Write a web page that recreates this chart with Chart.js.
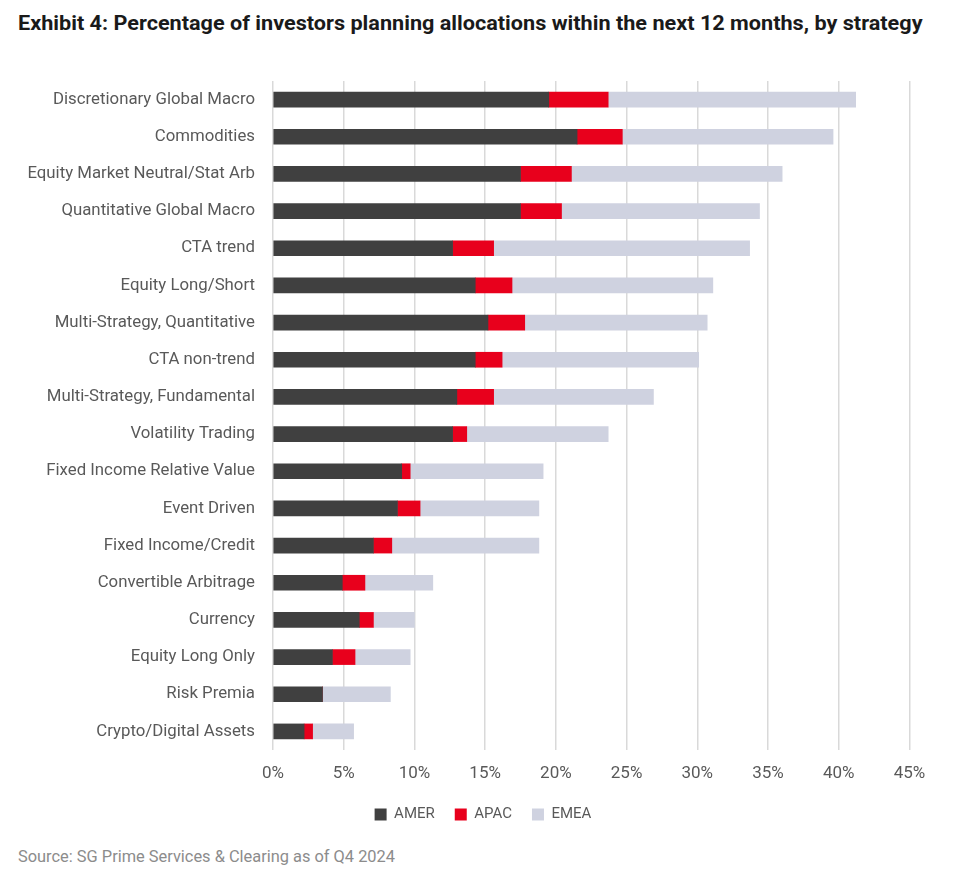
<!DOCTYPE html>
<html>
<head>
<meta charset="utf-8">
<script src="https://cdn.jsdelivr.net/npm/chart.js@4"></script>
<style>
  html, body { margin: 0; padding: 0; background: #fff; }
  body { width: 978px; height: 875px; position: relative; overflow: hidden; }
  #title { position: absolute; left: 18px; top: 11px; font-family: Roboto, sans-serif; font-weight: 700;
           font-size: 20px; color: #1a1a1a; white-space: nowrap; transform-origin: left top; }
  #source { position: absolute; left: 18px; top: 847px; font-family: Roboto, sans-serif; font-size: 16.4px;
            color: #8c8c8c; white-space: nowrap; }
  #wrap { position: absolute; left: 0; top: 0; width: 978px; height: 832px; }
</style>
</head>
<body>
<div id="title">Exhibit 4: Percentage of investors planning allocations within the next 12 months, by strategy</div>
<div id="wrap"><canvas id="chart"></canvas></div>
<div id="source">Source: SG Prime Services &amp; Clearing as of Q4 2024</div>
<script>
const strategies = [
    'Discretionary Global Macro', 'Commodities', 'Equity Market Neutral/Stat Arb', 'Quantitative Global Macro',
    'CTA trend', 'Equity Long/Short', 'Multi-Strategy, Quantitative', 'CTA non-trend',
    'Multi-Strategy, Fundamental', 'Volatility Trading', 'Fixed Income Relative Value', 'Event Driven',
    'Fixed Income/Credit', 'Convertible Arbitrage', 'Currency', 'Equity Long Only', 'Risk Premia', 'Crypto/Digital Assets'
];
const amer = [19.5, 21.5, 17.5, 17.5, 12.7, 14.3, 15.2, 14.3, 13.0, 12.7, 9.1, 8.8, 7.1, 4.9, 6.1, 4.2, 3.5, 2.2];
const apac = [4.2, 3.2, 3.6, 2.9, 2.9, 2.6, 2.6, 1.9, 2.6, 1.0, 0.6, 1.6, 1.3, 1.6, 1.0, 1.6, 0, 0.6];
const emea = [17.5, 14.9, 14.9, 14.0, 18.1, 14.2, 12.9, 13.9, 11.3, 10.0, 9.4, 8.4, 10.4, 4.8, 2.9, 3.9, 4.8, 2.9];
const xTicks = [0, 5, 10, 15, 20, 25, 30, 35, 40, 45];

// squeeze the title to the width of the original
const title = document.getElementById('title');
title.style.transform = 'scaleX(' + (904 / title.offsetWidth) + ')';

const font = 'Roboto, sans-serif';

new Chart(document.getElementById('chart'), {
    type: 'bar',
    data: {
        labels: strategies,
        datasets: [
            { label: 'AMER', data: amer, backgroundColor: '#404040' },
            { label: 'APAC', data: apac, backgroundColor: '#e8001c' },
            { label: 'EMEA', data: emea, backgroundColor: '#cfd2e0' }
        ]
    },
    options: {
        indexAxis: 'y',
        responsive: true, maintainAspectRatio: false, animation: false,
        layout: { padding: { top: 81, right: 12, left: 0, bottom: 0 } },
        datasets: { bar: { barThickness: 15 } },
        scales: {
            x: {
                // axis runs a little past 45% (no gridline there) so the legend sits centred like the original
                stacked: true, min: 0, max: 49,
                afterBuildTicks: s => { s.ticks = xTicks.map(v => ({ value: v })); },
                afterFit: s => { s.height = 37; },
                grid: { color: '#d9d9d9', lineWidth: 1.5, drawTicks: false },
                border: { display: false },
                ticks: { color: '#595959', font: { family: font, size: 17 }, padding: 14, callback: v => v + '%' }
            },
            y: {
                stacked: true,
                afterFit: s => { s.width = 273; },
                grid: { display: false },
                border: { display: false },
                ticks: { color: '#595959', font: { family: font, size: 16.8 }, padding: 10, autoSkip: false }
            }
        },
        plugins: {
            legend: {
                position: 'bottom',
                labels: { color: '#595959', font: { family: font, size: 15 }, boxWidth: 12, boxHeight: 12, padding: 20 }
            },
            tooltip: { enabled: false }
        }
    }
});
</script>
</body>
</html>
